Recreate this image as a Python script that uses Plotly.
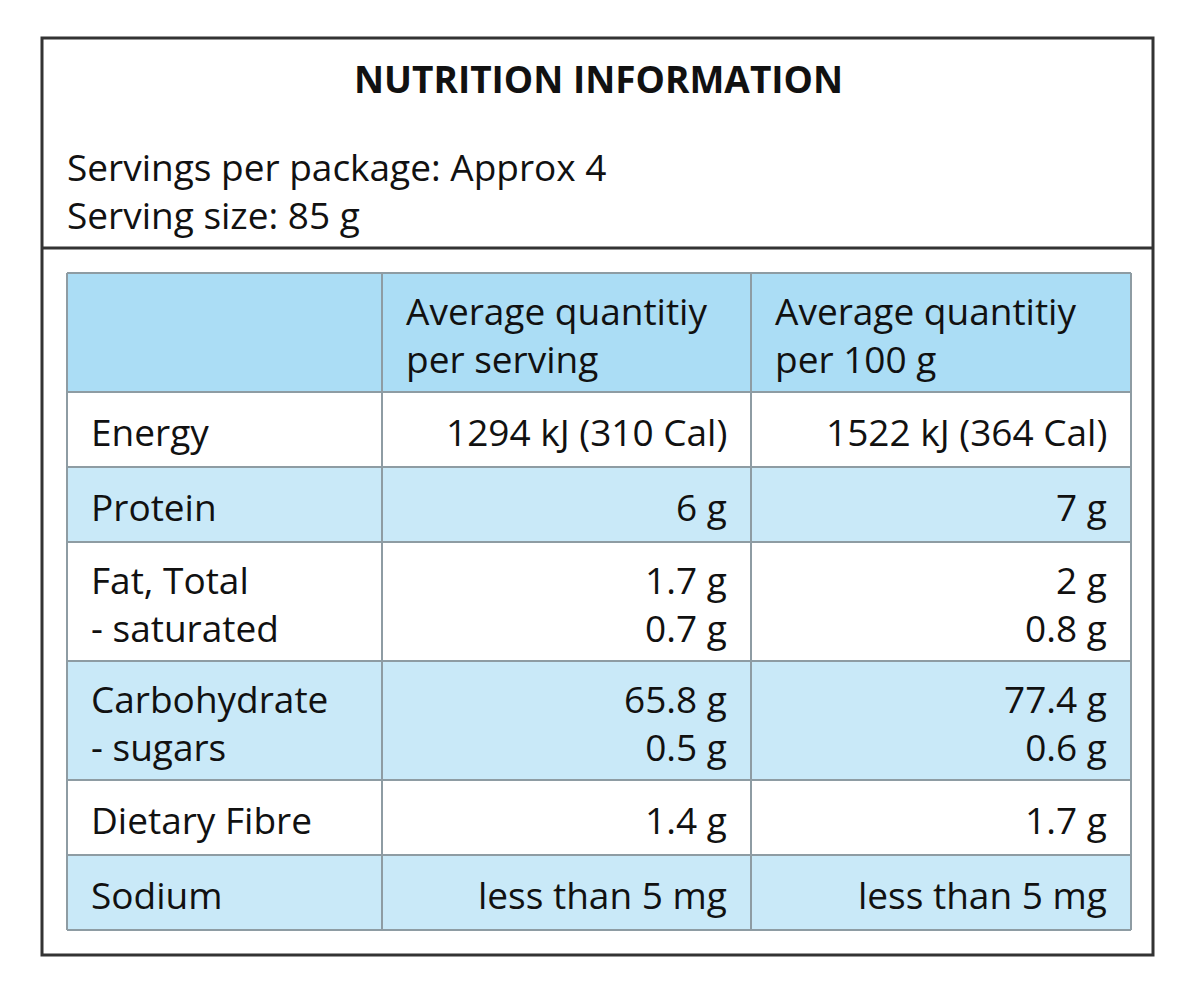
import plotly.graph_objects as go

title = "NUTRITION INFORMATION"
servings_lines = ["Servings per package: Approx 4", "Serving size: 85 g"]
col_headers = ["", "Average quantitiy<br>per serving", "Average quantitiy<br>per 100 g"]
nutrients = ["Energy", "Protein", "Fat, Total<br>- saturated", "Carbohydrate<br>- sugars",
             "Dietary Fibre", "Sodium"]
per_serving = ["1294 kJ (310 Cal)", "6 g", "1.7 g<br>0.7 g", "65.8 g<br>0.5 g", "1.4 g",
               "less than 5 mg"]
per_100g = ["1522 kJ (364 Cal)", "7 g", "2 g<br>0.8 g", "77.4 g<br>0.6 g", "1.7 g",
            "less than 5 mg"]

W, H = 1200, 1002
OFF = 8  # page body margin
FONT = "Open Sans"
FS = 37
HEADER_BG = "#ABDDF5"
SHADE_BG = "#C9E9F8"
GRID = "#8E9CA3"

box = dict(x0=42, x1=1153, y0=38, y1=955)
sep_y = 248
col_x = [67, 382, 751, 1131]
table_top = 273
line_h_one = 75
line_h_extra = 44
pad_l = 22
pad_r = 22

fig = go.Figure()
shapes = []
ann = []

shapes.append(dict(type="rect", **box, line=dict(color="#333333", width=3), fillcolor="white", layer="below"))
shapes.append(dict(type="line", x0=box["x0"], x1=box["x1"], y0=sep_y, y1=sep_y,
                   line=dict(color="#333333", width=3)))

ann.append(dict(x=(box["x0"] + box["x1"]) / 2 + 1, y=78, text="<b>" + title + "</b>", showarrow=False,
                xanchor="center", yanchor="middle", font=dict(family=FONT, size=37, color="#111111")))
ann.append(dict(x=65, y=190, text="<br>".join(servings_lines), showarrow=False, xanchor="left",
                yanchor="middle", align="left", font=dict(family=FONT, size=FS, color="#111111")))

rows = [col_headers] + [[n, a, b] for n, a, b in zip(nutrients, per_serving, per_100g)]
y = table_top
for i, row in enumerate(rows):
    nlines = max(c.count("<br>") + 1 for c in row)
    h = line_h_one + (nlines - 1) * line_h_extra
    if i == 0:
        h = 119
    bg = HEADER_BG if i == 0 else (SHADE_BG if i % 2 == 0 else "white")
    shapes.append(dict(type="rect", x0=col_x[0], x1=col_x[-1], y0=y, y1=y + h,
                       fillcolor=bg, line=dict(width=0), layer="below"))
    ym = y + h / 2 + 2
    for j, txt in enumerate(row):
        if not txt:
            continue
        if j == 0 or i == 0:
            ann.append(dict(x=col_x[j] + pad_l, y=ym, text=txt, showarrow=False, xanchor="left",
                            yanchor="middle", align="left",
                            font=dict(family=FONT, size=FS, color="#111111")))
        else:
            ann.append(dict(x=col_x[j + 1] - pad_r, y=ym, text=txt, showarrow=False, xanchor="right",
                            yanchor="middle", align="right",
                            font=dict(family=FONT, size=FS, color="#111111")))
    shapes.append(dict(type="line", x0=col_x[0], x1=col_x[-1], y0=y, y1=y,
                       line=dict(color=GRID, width=2)))
    y += h
table_bottom = y
shapes.append(dict(type="line", x0=col_x[0], x1=col_x[-1], y0=table_bottom, y1=table_bottom,
                   line=dict(color=GRID, width=2)))
for cx in col_x:
    shapes.append(dict(type="line", x0=cx, x1=cx, y0=table_top, y1=table_bottom,
                       line=dict(color=GRID, width=2)))

fig.update_layout(
    width=W, height=H, margin=dict(l=0, r=0, t=0, b=0),
    paper_bgcolor="white", plot_bgcolor="white",
    xaxis=dict(range=[OFF, W + OFF], visible=False, fixedrange=True),
    yaxis=dict(range=[H + OFF, OFF], visible=False, fixedrange=True),
    shapes=shapes, annotations=ann, showlegend=False,
)
fig.write_html("out.html")
